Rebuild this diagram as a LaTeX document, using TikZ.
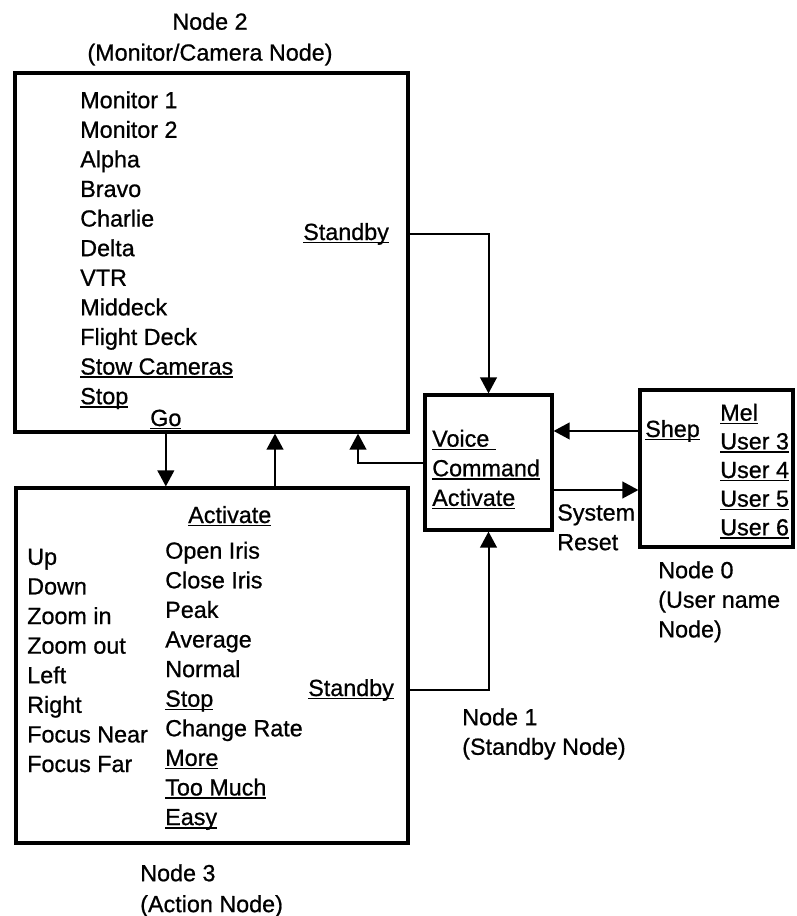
\documentclass[tikz,border=0pt]{standalone}
\usepackage{fontspec}
\setmainfont{Liberation Sans}[FakeBold=0.8]
\usetikzlibrary{arrows.meta}
\newsavebox{\ulnbox}
\newcommand{\uln}[1]{\leavevmode\sbox\ulnbox{#1}\rlap{\rule[-2.6pt]{\wd\ulnbox}{1.2pt}}\usebox\ulnbox}
\begin{document}
\begin{tikzpicture}[x=0.75pt,y=-0.75pt,
  font=\fontsize{17.5}{22.2}\selectfont,
  box/.style={draw, line width=2.4pt, inner sep=0pt},
  list/.style={anchor=north west, inner sep=0pt, align=left},
  nodelab/.style={list, font=\fontsize{17.5}{23.2}\selectfont},
  word/.style={anchor=base west, inner sep=0pt},
  arr/.style={-{Triangle[length=12pt,width=12.5pt]}, line width=1.5pt}
]
\useasboundingbox (0,0) rectangle (796,916);
% the four boxes
\node[box, minimum width=294.75pt, minimum height=269.25pt] (n2)    at (211.5,252.5) {};
\node[box, minimum width=294pt,    minimum height=266.25pt] (n3)    at (212,665.5)   {};
\node[box, minimum width=95.25pt,  minimum height=101.25pt] (voice) at (488.5,462.5) {};
\node[box, minimum width=114.75pt, minimum height=117.75pt] (users) at (716.5,468.5) {};
% node 2
\node[nodelab, anchor=north, align=center] (lab2) at (210,12.5) {Node 2\\(Monitor/Camera Node)};
\node[list] (cams) at (80,91) {Monitor 1\\Monitor 2\\Alpha\\Bravo\\Charlie\\Delta\\VTR\\Middeck\\Flight Deck\\\uln{Stow Cameras}\\\uln{Stop}};
\node[word] (stby2) at (303,240) {\uln{Standby}};
\node[word] (go)    at (150,426) {\uln{Go}};
% node 3
\node[word] (act)   at (188,523) {\uln{Activate}};
\node[list] (moves) at (27,548.5) {Up\\Down\\Zoom in\\Zoom out\\Left\\Right\\Focus Near\\Focus Far};
\node[list] (lens)  at (165,541.5) {Open Iris\\Close Iris\\Peak\\Average\\Normal\\\uln{Stop}\\Change Rate\\\uln{More}\\\uln{Too Much}\\\uln{Easy}};
\node[word] (stby3) at (308,696) {\uln{Standby}};
\node[nodelab] (lab3) at (140,864) {Node 3\\(Action Node)};
% node 1
\node[list] (vcmd) at (432,429.5) {\uln{Voice\ }\\\uln{Command}\\\uln{Activate}};
\node[list] (sysrst) at (557,504) {System\\Reset};
\node[list] (lab1) at (462,708) {Node 1\\(Standby Node)};
% node 0
\node[word] (shep) at (645,437) {\uln{Shep}};
\node[list, font=\fontsize{17.5}{21.5}\selectfont] (names) at (720,403.5) {\uln{Mel}\\\uln{User 3}\\\uln{User 4}\\\uln{User 5}\\\uln{User 6}};
\node[list] (lab0) at (658,561) {Node 0\\(User name\\Node)};
% connectors
\coordinate (upx) at (275,460);
\coordinate (vc)  at (358,463);
\coordinate (rst) at (600,490);
\draw[arr] (n2.south -| go) -- (n3.north -| go);
\draw[arr] (n3.north -| upx) -- (n2.south -| upx);
\draw[arr] (voice.west |- vc) -| (n2.south -| vc);
\draw[arr] (n2.east |- stby2) -| (voice.north);
\draw[arr] (n3.east |- stby3) -| (voice.south);
\draw[arr] (users.west |- shep) -- (voice.east |- shep);
\draw[arr] (voice.east |- rst) -- (users.west |- rst);
\end{tikzpicture}
\end{document}
